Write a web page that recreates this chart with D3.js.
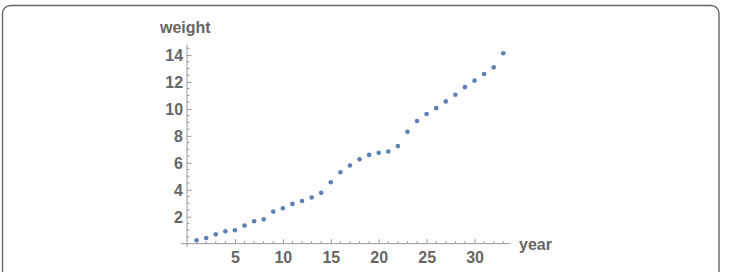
<!DOCTYPE html>
<html>
<head>
<meta charset="utf-8">
<script src="https://cdn.jsdelivr.net/npm/d3@7"></script>
<style>
  html, body { margin: 0; padding: 0; background: #fff; }
  svg { display: block; }
  .tick text { font-family: "Liberation Sans", Arial, sans-serif; font-weight: bold; font-size: 16px; fill: #666; }
  .lbl { font-family: "Liberation Sans", Arial, sans-serif; font-weight: bold; font-size: 16px; fill: #666; }
</style>
</head>
<body>
<div id="chart"></div>
<script>
// data
var years = [1, 2, 3, 4, 5, 6, 7, 8, 9, 10, 11, 12, 13, 14, 15, 16, 17,
             18, 19, 20, 21, 22, 23, 24, 25, 26, 27, 28, 29, 30, 31, 32, 33];
var weights = [0.25, 0.42, 0.69, 0.92, 0.99, 1.34, 1.66, 1.81, 2.38, 2.63, 2.95,
               3.17, 3.42, 3.77, 4.56, 5.30, 5.80, 6.27, 6.59, 6.74, 6.84, 7.24,
               8.30, 9.10, 9.62, 10.06, 10.56, 11.05, 11.62, 12.10, 12.59, 13.09, 14.13];
var xTicks = [5, 10, 15, 20, 25, 30];
var yTicks = [2, 4, 6, 8, 10, 12, 14];

var W = 731, H = 272;
var svg = d3.select('#chart').append('svg')
  .attr('width', W)
  .attr('height', H);

// frame
svg.append('rect')
  .attr('x', 2.5).attr('y', 5.5)
  .attr('width', 716.5).attr('height', 290)
  .attr('rx', 8).attr('ry', 8)
  .attr('fill', 'none')
  .attr('stroke', '#666')
  .attr('stroke-width', 1.4);

// scales
var x = d3.scaleLinear().domain([-0.66, 33.7]).range([180.7, 510]);
var y = d3.scaleLinear().domain([-0.25, 14.8]).range([247, 44.3]);
var x0 = x(0), y0 = y(0);

var axisColor = '#999';

// x axis
var xAxis = svg.append('g')
  .attr('transform', 'translate(0,' + y0 + ')');
xAxis.append('line')
  .attr('x1', x.range()[0]).attr('x2', x.range()[1])
  .attr('stroke', axisColor);
xAxis.selectAll('.minor')
  .data(d3.range(1, 34).filter(function(d) { return d % 5 !== 0; }))
  .enter().append('line')
  .attr('x1', function(d) { return x(d); })
  .attr('x2', function(d) { return x(d); })
  .attr('y1', 0).attr('y2', -2.5)
  .attr('stroke', axisColor);
var xg = xAxis.append('g')
  .call(d3.axisTop(x).tickValues(xTicks).tickSize(4.5).tickSizeOuter(0));
xg.select('.domain').remove();
xg.selectAll('.tick line').attr('stroke', axisColor);
xg.selectAll('.tick text').attr('y', 19).attr('dy', 0);

// y axis
var yAxis = svg.append('g')
  .attr('transform', 'translate(' + x0 + ',0)');
yAxis.append('line')
  .attr('y1', y.range()[0]).attr('y2', y.range()[1])
  .attr('stroke', axisColor);
yAxis.selectAll('.minor')
  .data(d3.range(0.5, 14.8, 0.5).filter(function(d) { return d % 2 !== 0; }))
  .enter().append('line')
  .attr('y1', function(d) { return y(d); })
  .attr('y2', function(d) { return y(d); })
  .attr('x1', 0).attr('x2', 2.5)
  .attr('stroke', axisColor);
var yg = yAxis.append('g')
  .call(d3.axisRight(y).tickValues(yTicks).tickSize(4.5).tickSizeOuter(0));
yg.select('.domain').remove();
yg.selectAll('.tick line').attr('stroke', axisColor);
yg.selectAll('.tick text')
  .attr('x', -4)
  .attr('dy', '0.36em')
  .style('text-anchor', 'end');

// labels
svg.append('text').attr('class', 'lbl')
  .attr('x', 160).attr('y', 33)
  .text('weight');
svg.append('text').attr('class', 'lbl')
  .attr('x', 519).attr('y', 249.5)
  .text('year');

// points
svg.selectAll('.pt')
  .data(years)
  .enter().append('circle')
  .attr('class', 'pt')
  .attr('cx', function(d) { return x(d); })
  .attr('cy', function(d, i) { return y(weights[i]); })
  .attr('r', 2.3)
  .attr('fill', '#5e81b5');
</script>
</body>
</html>
